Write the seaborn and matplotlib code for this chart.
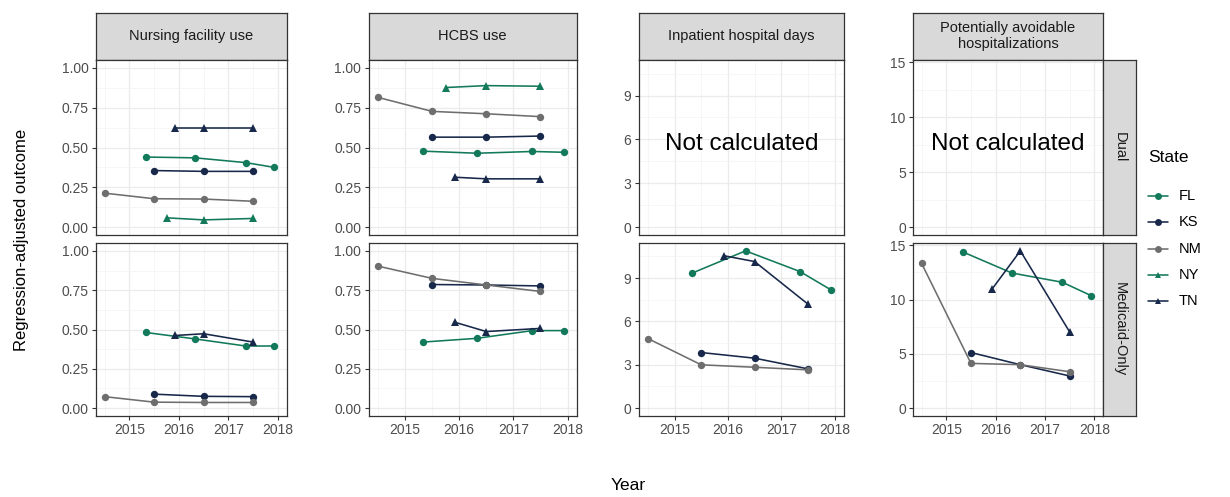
import numpy as np
import pandas as pd
import matplotlib
matplotlib.use("Agg")
import matplotlib.pyplot as plt
from matplotlib.lines import Line2D
from matplotlib.ticker import FixedLocator
import seaborn as sns

# ---------------------------------------------------------------- data
states = ["FL", "KS", "NM", "NY", "TN"]
measures = ["Nursing facility use", "HCBS use", "Inpatient hospital days",
            "Potentially avoidable\nhospitalizations"]
groups = ["Dual", "Medicaid-Only"]
year_ticks = [2015, 2016, 2017, 2018]

# period midpoints (years) of each state's observations
year_fl = [2015.33, 2016.33, 2017.35, 2017.93]
year_ks = [2015.5, 2016.5, 2017.5]
year_nm = [2014.5, 2015.5, 2016.5, 2017.5]
year_ny = [2015.75, 2016.5, 2017.5]
year_tn = [2015.93, 2016.5, 2017.5]

# Nursing facility use
nf_dual_fl = [0.44, 0.435, 0.405, 0.375]
nf_dual_ks = [0.355, 0.35, 0.35]
nf_dual_nm = [0.213, 0.178, 0.176, 0.162]
nf_dual_ny = [0.058, 0.045, 0.054]
nf_dual_tn = [0.62, 0.62, 0.62]
nf_mo_fl = [0.481, 0.44, 0.395, 0.395]
nf_mo_ks = [0.089, 0.075, 0.073]
nf_mo_nm = [0.073, 0.038, 0.036, 0.036]
nf_mo_tn = [0.462, 0.473, 0.42]

# HCBS use
hcbs_dual_fl = [0.477, 0.464, 0.475, 0.47]
hcbs_dual_ks = [0.565, 0.565, 0.572]
hcbs_dual_nm = [0.815, 0.727, 0.712, 0.694]
hcbs_dual_ny = [0.877, 0.889, 0.885]
hcbs_dual_tn = [0.313, 0.303, 0.303]
hcbs_mo_fl = [0.42, 0.444, 0.493, 0.493]
hcbs_mo_ks = [0.786, 0.783, 0.777]
hcbs_mo_nm = [0.903, 0.825, 0.783, 0.742]
hcbs_mo_tn = [0.545, 0.487, 0.507]

# Inpatient hospital days (Medicaid-Only only)
ip_mo_fl = [9.35, 10.89, 9.46, 8.19]
ip_mo_ks = [3.85, 3.46, 2.72]
ip_mo_nm = [4.82, 3.0, 2.83, 2.65]
ip_mo_tn = [10.55, 10.15, 7.2]

# Potentially avoidable hospitalizations (Medicaid-Only only)
pah_mo_fl = [14.39, 12.44, 11.59, 10.37]
pah_mo_ks = [5.12, 4.0, 2.96]
pah_mo_nm = [13.32, 4.12, 4.0, 3.35]
pah_mo_tn = [10.98, 14.48, 7.01]

years = {"FL": year_fl, "KS": year_ks, "NM": year_nm, "NY": year_ny, "TN": year_tn}
series = {
    (measures[0], "Dual"): {"FL": nf_dual_fl, "KS": nf_dual_ks, "NM": nf_dual_nm,
                            "NY": nf_dual_ny, "TN": nf_dual_tn},
    (measures[0], "Medicaid-Only"): {"FL": nf_mo_fl, "KS": nf_mo_ks, "NM": nf_mo_nm,
                                     "TN": nf_mo_tn},
    (measures[1], "Dual"): {"FL": hcbs_dual_fl, "KS": hcbs_dual_ks, "NM": hcbs_dual_nm,
                            "NY": hcbs_dual_ny, "TN": hcbs_dual_tn},
    (measures[1], "Medicaid-Only"): {"FL": hcbs_mo_fl, "KS": hcbs_mo_ks, "NM": hcbs_mo_nm,
                                     "TN": hcbs_mo_tn},
    (measures[2], "Medicaid-Only"): {"FL": ip_mo_fl, "KS": ip_mo_ks, "NM": ip_mo_nm,
                                     "TN": ip_mo_tn},
    (measures[3], "Medicaid-Only"): {"FL": pah_mo_fl, "KS": pah_mo_ks, "NM": pah_mo_nm,
                                     "TN": pah_mo_tn},
}

rows = []
for (measure, group), by_state in series.items():
    for st, vals in by_state.items():
        for yr, v in zip(years[st], vals):
            rows.append({"Measure": measure, "Group": group, "State": st,
                         "Year": yr, "Outcome": v})
df = pd.DataFrame(rows)

# ---------------------------------------------------------------- style
sns.set_theme(style="white")
plt.rcParams["font.family"] = ["Liberation Sans", "DejaVu Sans"]

palette = {"FL": "#12795a", "KS": "#18284a", "NM": "#6e6e6e",
           "NY": "#12795a", "TN": "#18284a"}
markers = {"FL": "o", "KS": "o", "NM": "o", "NY": "^", "TN": "^"}
BORDER = "#333333"
STRIP = "#D9D9D9"
TICKTXT = "#4D4D4D"

W, H = 1230, 497
fig = plt.figure(figsize=(W / 100, H / 100), dpi=100)


def rect(l, t, r, b):
    return [l / W, 1 - b / H, (r - l) / W, (b - t) / H]


col_x = [(96, 286.5), (368.5, 577), (638.5, 844), (913, 1103)]
row_y = [(60, 235), (243, 416)]
strip_top = 12.5
xlim = (2014.325, 2018.175)

# y ranges are shared down each column
ylims, ymajor, yfmt = [], [], []
for j, m in enumerate(measures):
    if j < 2:
        lo, hi = 0.0, 1.0
        ymajor.append([0, 0.25, 0.5, 0.75, 1.0])
        yfmt.append("{:.2f}")
    else:
        lo, hi = 0.0, df.loc[df.Measure == m, "Outcome"].max()
        ymajor.append([0, 3, 6, 9] if j == 2 else [0, 5, 10, 15])
        yfmt.append("{:.0f}")
    pad = 0.05 * (hi - lo)
    ylims.append((lo - pad, hi + pad))


def strip_axes(r, text, rotation=0):
    sa = fig.add_axes(rect(*r))
    sa.set_facecolor(STRIP)
    sa.set_xticks([])
    sa.set_yticks([])
    for s in sa.spines.values():
        s.set_color(BORDER)
        s.set_linewidth(0.9)
    sa.text(0.5, 0.5, text, ha="center", va="center", rotation=rotation,
            fontsize=10.5, color="#1A1A1A", transform=sa.transAxes,
            linespacing=1.15)
    return sa


for j, m in enumerate(measures):
    l, r = col_x[j]
    strip_axes((l, strip_top, r, row_y[0][0]), m)
    for i, g in enumerate(groups):
        t, b = row_y[i]
        ax = fig.add_axes(rect(l, t, r, b))
        ax.set_facecolor("white")
        sub = df[(df.Measure == m) & (df.Group == g)]
        if len(sub):
            sns.lineplot(data=sub, x="Year", y="Outcome", hue="State", style="State",
                         units="State", estimator=None, palette=palette,
                         markers=markers, dashes=False, markersize=5.3,
                         markeredgewidth=0, linewidth=1.15, legend=False, ax=ax,
                         sort=True)
        else:
            ax.text(0.5, 0.52, "Not calculated", ha="center", va="center",
                    fontsize=17.5, color="black", transform=ax.transAxes)
        ax.set_xlim(*xlim)
        ax.set_ylim(*ylims[j])
        ax.xaxis.set_major_locator(FixedLocator(year_ticks))
        ax.xaxis.set_minor_locator(FixedLocator([2014.5, 2015.5, 2016.5, 2017.5]))
        yt = ymajor[j]
        step = yt[1] - yt[0]
        ax.yaxis.set_major_locator(FixedLocator(yt))
        ax.yaxis.set_minor_locator(FixedLocator([v + step / 2 for v in yt[:-1]] +
                                                ([yt[-1] + step / 2] if j == 2 else [])))
        ax.set_yticklabels([yfmt[j].format(v) for v in yt])
        ax.grid(which="major", color="#EBEBEB", linewidth=0.9)
        ax.grid(which="minor", color="#F4F4F4", linewidth=0.55)
        ax.set_axisbelow(True)
        for s in ax.spines.values():
            s.set_color(BORDER)
            s.set_linewidth(0.9)
        ax.tick_params(axis="both", which="major", direction="out", length=3.2,
                       width=0.8, color=BORDER, labelcolor=TICKTXT, labelsize=10,
                       pad=2, left=True, bottom=(i == 1))
        ax.tick_params(axis="both", which="minor", length=0)
        if i == 0:
            ax.set_xticklabels([])
        ax.set_xlabel("")
        ax.set_ylabel("")

# row strips on the right of the last column
for i, g in enumerate(groups):
    t, b = row_y[i]
    strip_axes((col_x[3][1], t, 1136, b), g, rotation=-90)

# axis titles
fig.text(22 / W, 1 - 240 / H, "Regression-adjusted outcome", rotation=90,
         ha="center", va="center", fontsize=12, color="black")
fig.text(628 / W, 1 - 486 / H, "Year", ha="center", va="center",
         fontsize=12.5, color="black")

# legend
lg = fig.add_axes(rect(1140, 140, 1228, 320))
lg.set_axis_off()
lg.set_xlim(1140, 1228)
lg.set_ylim(320, 140)
LX = 1148
lg.text(LX, 158, "State", ha="left", va="center", fontsize=12.5, color="black")
for k, st in enumerate(states):
    yy = 196 + k * 26.3
    lg.add_line(Line2D([LX, LX + 20], [yy, yy], color=palette[st], linewidth=1.15))
    lg.plot([LX + 10], [yy], marker=markers[st], color=palette[st], markersize=5,
            markeredgewidth=0)
    lg.text(LX + 31, yy, st, ha="left", va="center", fontsize=10.5, color="black")

fig.savefig("out.png", dpi=100, facecolor="white")
